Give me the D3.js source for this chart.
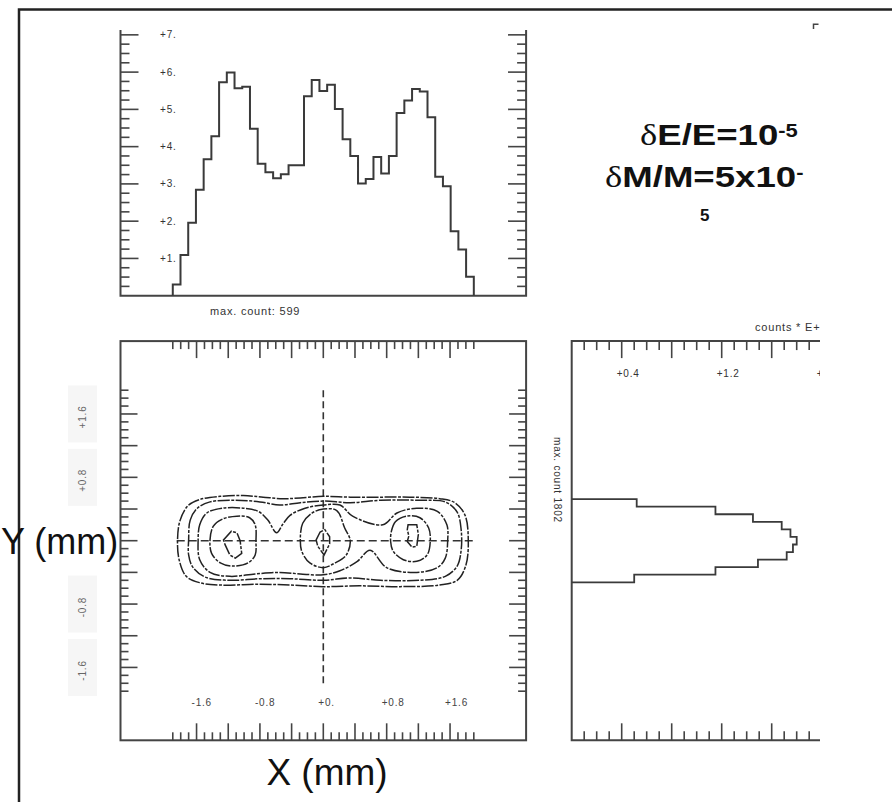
<!DOCTYPE html>
<html>
<head>
<meta charset="utf-8">
<script src="https://cdn.jsdelivr.net/npm/d3@7"></script>
<style>
  body { margin: 0; background: #fff; }
  svg { display: block; }
</style>
</head>
<body>
<div id="chart"></div>
<script>
// Projected beam profile along X (counts x100), bins from -1.9 to +1.9 mm
const xProfile = [0.30, 1.09, 1.96, 2.84, 3.66, 4.28, 5.73, 5.99, 5.57, 5.61,
  4.48, 3.54, 3.31, 3.15, 3.26, 3.50, 3.50, 5.35, 5.79, 5.49,
  5.66, 5.01, 4.20, 3.75, 3.01, 3.13, 3.72, 3.28, 3.75, 4.90,
  5.24, 5.55, 5.48, 4.79, 3.19, 2.94, 1.73, 1.24, 0.51];
const xProfileRange = [-1.9, 1.9];

// Projected profile along Y (counts x1000), top bin first
const yProfile = [0.52, 1.15, 1.45, 1.68, 1.75, 1.80, 1.77, 1.72, 1.49, 1.15, 0.50];
const yProfileRange = [0.525, -0.525];

const countTicks = [1, 2, 3, 4, 5, 6, 7];
const countTickLabels = ["+1.", "+2.", "+3.", "+4.", "+5.", "+6.", "+7."];
const mmTicks = [-1.6, -0.8, 0, 0.8, 1.6];
const mmTickLabelsX = ["-1.6", "-0.8", "+0.", "+0.8", "+1.6"];
const mmTicksY = [1.6, 0.8, -0.8, -1.6];
const mmTickLabelsY = ["+1.6", "+0.8", "-0.8", "-1.6"];
const sideTicks = [0.4, 1.2, 2.0];
const sideTickLabels = ["+0.4", "+1.2", "+2.0"];

// Contour lines (x mm, y mm), outermost level first
const contour1 = [[-1.84,0.01],[-1.81,0.25],[-1.71,0.44],[-1.56,0.52],[-1.30,0.56],[-1.01,0.57],[-0.76,0.55],[-0.51,0.53],[-0.29,0.54],[0,0.56],[0.34,0.55],[0.72,0.55],[1.09,0.55],[1.47,0.53],[1.66,0.48],[1.79,0.32],[1.83,0.01],[1.80,-0.31],[1.69,-0.50],[1.47,-0.56],[0.97,-0.58],[0.46,-0.57],[0,-0.58],[-0.42,-0.56],[-0.80,-0.55],[-1.30,-0.56],[-1.56,-0.53],[-1.73,-0.45],[-1.82,-0.24]];
const contour2 = [[-1.70,0.01],[-1.68,0.26],[-1.59,0.41],[-1.43,0.49],[-1.11,0.51],[-0.80,0.49],[-0.55,0.45],[-0.29,0.48],[0,0.50],[0.34,0.48],[0.72,0.51],[1.22,0.51],[1.54,0.49],[1.69,0.36],[1.74,0.14],[1.74,-0.12],[1.69,-0.32],[1.54,-0.45],[1.22,-0.50],[0.72,-0.50],[0.34,-0.47],[0,-0.50],[-0.42,-0.48],[-0.80,-0.48],[-1.18,-0.50],[-1.49,-0.46],[-1.65,-0.33],[-1.70,-0.18]];
const contour3 = [[-1.58,0.01],[-1.56,0.20],[-1.47,0.35],[-1.27,0.41],[-1.01,0.41],[-0.82,0.37],[-0.70,0.26],[-0.59,0.10],[-0.51,0.21],[-0.42,0.32],[-0.23,0.41],[0,0.45],[0.21,0.45],[0.37,0.31],[0.75,0.20],[0.93,0.35],[1.18,0.41],[1.44,0.37],[1.56,0.20],[1.57,0.00],[1.54,-0.22],[1.44,-0.34],[1.18,-0.40],[0.80,-0.34],[0.59,-0.12],[0.43,-0.26],[0.21,-0.38],[0,-0.43],[-0.29,-0.42],[-0.55,-0.40],[-0.86,-0.42],[-1.18,-0.45],[-1.43,-0.40],[-1.56,-0.24]];
const contour4Left = [[-1.43,0.01],[-1.39,0.18],[-1.28,0.27],[-1.09,0.31],[-0.93,0.29],[-0.86,0.20],[-0.85,-0.01],[-0.86,-0.18],[-0.95,-0.28],[-1.14,-0.32],[-1.30,-0.28],[-1.41,-0.16]];
const contour4Center = [[-0.29,0.00],[-0.26,0.22],[-0.14,0.35],[0,0.40],[0.17,0.38],[0.27,0.16],[0.34,0.00],[0.29,-0.18],[0.15,-0.28],[0,-0.34],[-0.17,-0.28],[-0.27,-0.14]];
const contour4Right = [[0.86,0.12],[0.91,0.24],[1.05,0.31],[1.22,0.29],[1.33,0.16],[1.35,-0.01],[1.31,-0.18],[1.18,-0.26],[1.01,-0.24],[0.88,-0.13],[0.85,-0.01]];
const contour5Left = [[-1.26,0.01],[-1.16,0.12],[-1.09,0.10],[-1.05,0.00],[-1.03,-0.16],[-1.11,-0.22],[-1.18,-0.18],[-1.24,-0.05]];
const contour5Center = [[-0.09,0.01],[-0.04,0.11],[0.02,0.14],[0.08,0.05],[0.08,-0.04],[0.01,-0.18],[-0.07,-0.07]];
const contour5Right = [[1.07,0.20],[1.18,0.20],[1.20,0.08],[1.18,-0.07],[1.12,-0.08],[1.06,-0.01],[1.08,0.06],[1.06,0.14]];

const smoothRings = [contour1, contour2, contour3, contour4Left, contour4Center, contour4Right];
const innerRings = [contour5Left, contour5Center, contour5Right];

const width = 892, height = 802;
const ink = "#333";
const font = "'Liberation Sans', Arial, sans-serif";

const svg = d3.select("#chart").append("svg")
  .attr("width", width)
  .attr("height", height)
  .style("background", "#fff");

// shared mm scales (top histogram and contour share x)
const x = d3.scaleLinear().domain([-2.56, 2.56]).range([120.5, 526.1]);
const y = d3.scaleLinear().domain([-2.52, 2.52]).range([740.3, 341.1]);
const yCount = d3.scaleLinear().domain([0, 7.13]).range([295.7, 30]);
const xCount = d3.scaleLinear().domain([0, 2]).range([571.7, 821.7]);

const minorMm = d3.range(-19, 20).map((i) => i / 10);
const isMajorMm = (v) => Math.round(v * 10) % 4 === 0;

function tick(g, x1, y1, x2, y2) {
  g.append("line")
    .attr("x1", x1).attr("y1", y1).attr("x2", x2).attr("y2", y2)
    .attr("stroke", "#444").attr("stroke-width", 1.6);
}

function label(g, tx, ty, txt, size) {
  return g.append("text")
    .attr("x", tx).attr("y", ty)
    .attr("font-family", font)
    .attr("font-size", size || 10)
    .attr("letter-spacing", 0.8)
    .attr("fill", ink)
    .text(txt);
}

// Outer border (only top and left are visible)
svg.append("path")
  .attr("d", `M19,${height} V9.5 H${width}`)
  .attr("fill", "none")
  .attr("stroke", "#222")
  .attr("stroke-width", 2.5);

// ---------- Top histogram ----------
const topPanel = svg.append("g");
const [x0, x1] = [x.range()[0], x.range()[1]];
topPanel.append("path")
  .attr("d", `M${x0},${yCount.range()[1]} V${yCount(0)} H${x1} V${yCount.range()[1]}`)
  .attr("fill", "none").attr("stroke", "#444").attr("stroke-width", 2);

d3.range(1, 29).map((i) => i / 4).forEach((v) => {
  const major = Number.isInteger(v);
  const len = major ? 18 : 9;
  tick(topPanel, x0, yCount(v), x0 + len, yCount(v));
  tick(topPanel, x1, yCount(v), x1 - len, yCount(v));
});

countTicks.forEach((v, i) => {
  label(topPanel, 160, yCount(v) + 3.5, countTickLabels[i]);
});

const xEdge = d3.scaleLinear().domain([0, xProfile.length]).range(xProfileRange);
const topPts = [[xEdge(0), 0]];
xProfile.forEach((v, i) => {
  topPts.push([xEdge(i), v], [xEdge(i + 1), v]);
});
topPts.push([xEdge(xProfile.length), 0]);

topPanel.append("path")
  .datum(topPts)
  .attr("fill", "none")
  .attr("stroke", "#3a3a3a")
  .attr("stroke-width", 2)
  .attr("d", d3.line().x((d) => x(d[0])).y((d) => yCount(d[1])));

label(topPanel, 210, 314.5, "max. count:  599", 11);

// small corner mark
svg.append("path")
  .attr("d", "M813.5,29 V24.3 H818.5")
  .attr("fill", "none").attr("stroke", "#444").attr("stroke-width", 1.5);

// ---------- Contour plot ----------
const main = svg.append("g");

// y tick label boxes (left of the frame)
mmTicksY.forEach((v, i) => {
  main.append("rect")
    .attr("x", 68).attr("y", y(v) - 28.5)
    .attr("width", 29).attr("height", 57)
    .attr("fill", "#f6f6f6");
  label(main, 0, 0, mmTickLabelsY[i])
    .attr("text-anchor", "middle")
    .attr("fill", "#666")
    .attr("transform", `translate(86,${y(v) + 3}) rotate(-90)`);
});

main.append("rect")
  .attr("x", x.range()[0]).attr("y", y.range()[1])
  .attr("width", x.range()[1] - x.range()[0])
  .attr("height", y.range()[0] - y.range()[1])
  .attr("fill", "none").attr("stroke", "#444").attr("stroke-width", 2);

minorMm.forEach((v) => {
  const len = isMajorMm(v) ? 17 : 8;
  const yt = y.range()[1], yb = y.range()[0];
  tick(main, x(v), yt, x(v), yt + len);
  tick(main, x(v), yb, x(v), yb - len);
  tick(main, x0, y(v), x0 + len, y(v));
  tick(main, x1, y(v), x1 - len, y(v));
});

mmTicks.forEach((v, i) => {
  label(main, x(v) - 5, 705.5, mmTickLabelsX[i]).attr("fill", "#444");
});

// dashed centre cross
main.append("line")
  .attr("x1", x(0)).attr("x2", x(0))
  .attr("y1", y(1.9)).attr("y2", y(-1.8))
  .attr("stroke", ink).attr("stroke-width", 1.6)
  .attr("stroke-dasharray", "7,4");
main.append("line")
  .attr("x1", x(-1.85)).attr("x2", x(1.9))
  .attr("y1", y(0)).attr("y2", y(0))
  .attr("stroke", ink).attr("stroke-width", 1.6)
  .attr("stroke-dasharray", "8,4");

const ringLine = d3.line()
  .x((d) => x(d[0])).y((d) => y(d[1]))
  .curve(d3.curveCatmullRomClosed.alpha(0.5));
const innerLine = d3.line()
  .x((d) => x(d[0])).y((d) => y(d[1]))
  .curve(d3.curveLinearClosed);

main.selectAll(".ring")
  .data(smoothRings)
  .join("path")
  .attr("class", "ring")
  .attr("d", ringLine)
  .attr("fill", "none")
  .attr("stroke", "#222")
  .attr("stroke-width", 1.5)
  .attr("stroke-dasharray", "12,1.5,3,1.5");

main.selectAll(".inner")
  .data(innerRings)
  .join("path")
  .attr("class", "inner")
  .attr("d", innerLine)
  .attr("fill", "none")
  .attr("stroke", "#222")
  .attr("stroke-width", 1.5)
  .attr("stroke-dasharray", "12,1.5,3,1.5");

// ---------- Right histogram (clipped at the picture edge) ----------
svg.append("clipPath").attr("id", "sideclip")
  .append("rect").attr("x", 540).attr("y", 300).attr("width", 280).attr("height", 460);

const side = svg.append("g").attr("clip-path", "url(#sideclip)");
const sx0 = xCount(0);
side.append("path")
  .attr("d", `M${xCount(2.2)},${y.range()[1]} H${sx0} V${y.range()[0]} H${xCount(2.2)}`)
  .attr("fill", "none").attr("stroke", "#444").attr("stroke-width", 2);

d3.range(1, 21).map((i) => i / 10).forEach((v) => {
  const major = Math.round(v * 10) % 4 === 0;
  const len = major ? 17 : 9;
  tick(side, xCount(v), y.range()[1], xCount(v), y.range()[1] + len);
  tick(side, xCount(v), y.range()[0], xCount(v), y.range()[0] - len);
});

sideTicks.forEach((v, i) => {
  label(side, xCount(v) - 5, 376.5, sideTickLabels[i]);
});
label(side, 755, 330.5, "counts * E+03", 11);

const yEdge = d3.scaleLinear().domain([0, yProfile.length]).range(yProfileRange);
const sidePts = [[0, yEdge(0)]];
yProfile.forEach((v, i) => {
  sidePts.push([v, yEdge(i)], [v, yEdge(i + 1)]);
});
sidePts.push([0, yEdge(yProfile.length)]);

side.append("path")
  .datum(sidePts)
  .attr("fill", "none")
  .attr("stroke", "#3a3a3a")
  .attr("stroke-width", 1.8)
  .attr("d", d3.line().x((d) => xCount(d[0])).y((d) => y(d[1])));

label(svg, 0, 0, "max. count  1802")
  .attr("transform", "translate(554,437) rotate(90)");

// ---------- Annotation ----------
const note = svg.append("g")
  .attr("font-family", font)
  .attr("font-weight", "bold")
  .attr("fill", "#111");

const line1 = note.append("text")
  .attr("transform", "translate(640,145) scale(1.22,1)")
  .attr("font-size", 30);
line1.append("tspan").attr("font-family", "'Liberation Serif', serif").attr("font-weight", "normal").text("δ");
line1.append("tspan").text("E/E=10");
line1.append("tspan").attr("font-size", 18).attr("dy", -8.5).text("-5");

const line2 = note.append("text")
  .attr("transform", "translate(605,187) scale(1.22,1)")
  .attr("font-size", 30);
line2.append("tspan").attr("font-family", "'Liberation Serif', serif").attr("font-weight", "normal").text("δ");
line2.append("tspan").text("M/M=5x10");
line2.append("tspan").attr("font-size", 18).attr("dy", -8.5).text("-");

note.append("text")
  .attr("x", 700).attr("y", 221)
  .attr("font-size", 17)
  .text("5");

// ---------- Axis titles ----------
svg.append("rect")
  .attr("x", 22).attr("y", 507).attr("width", 96).attr("height", 66)
  .attr("fill", "#fff");
svg.append("text")
  .attr("x", 1).attr("y", 553.5)
  .attr("font-family", font)
  .attr("font-size", 36)
  .attr("fill", "#111")
  .text("Y (mm)");

svg.append("text")
  .attr("x", 327).attr("y", 785)
  .attr("text-anchor", "middle")
  .attr("font-family", font)
  .attr("font-size", 37)
  .attr("fill", "#111")
  .text("X (mm)");
</script>
</body>
</html>
